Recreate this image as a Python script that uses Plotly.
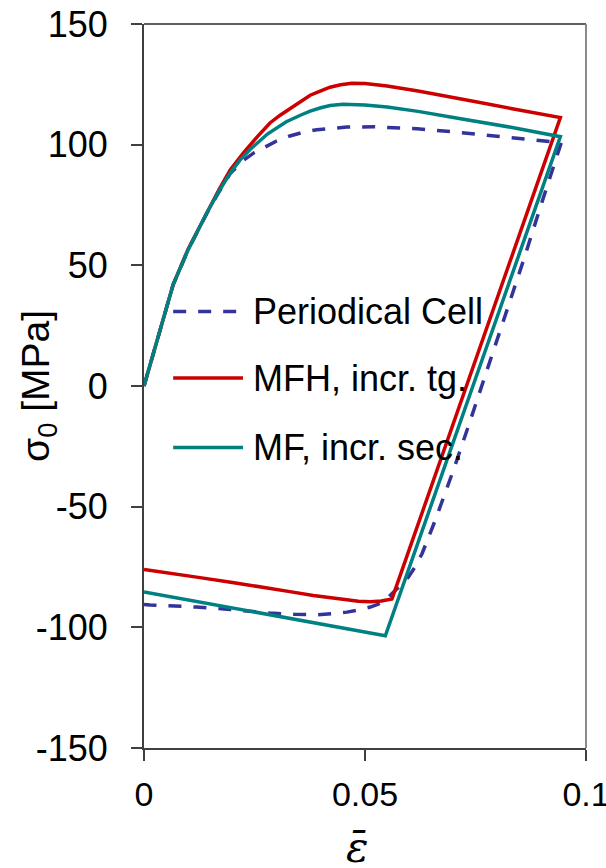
import plotly.graph_objects as go

# Periodical Cell (unit-cell FE reference): loading, unloading, reverse loading
pc_strain = [0.0, 0.0066, 0.010, 0.0142, 0.017, 0.0195, 0.0225, 0.025, 0.0278, 0.030,
             0.033, 0.036, 0.0391, 0.0425, 0.0459, 0.052, 0.057, 0.0618, 0.070, 0.080,
             0.0874, 0.0944,
             0.090, 0.0859, 0.0736, 0.070, 0.0659, 0.0645, 0.0629, 0.0613, 0.0598,
             0.0585, 0.0572, 0.0557, 0.0542, 0.0527, 0.0512, 0.0485, 0.0459, 0.0425,
             0.0391, 0.034, 0.0285, 0.0195, 0.0119, 0.0014, 0.0]
pc_stress = [0.0, 42.0, 56.5, 71.5, 80.5, 88.0, 93.5, 96.8, 99.4, 101.5,
             103.6, 105.1, 106.2, 106.9, 107.3, 107.4, 107.1, 106.6, 105.3, 103.4,
             102.3, 100.8,
             76.0, 52.3, -15.5, -34.9, -55.6, -62.5, -69.5, -75.0, -79.2,
             -81.8, -84.0, -86.9, -89.3, -90.6, -91.6, -92.8, -93.7, -94.4,
             -94.8, -94.6, -94.1, -92.6, -91.6, -90.7, -90.5]

# MFH, incremental tangent
mfh_strain = [0.0, 0.0066, 0.010, 0.0142, 0.017, 0.0195, 0.0225, 0.0255, 0.0285, 0.0308,
              0.0331, 0.0353, 0.0376, 0.040, 0.0421, 0.0445, 0.047, 0.050, 0.055, 0.062,
              0.069, 0.076, 0.083, 0.0885, 0.0942,
              0.0561, 0.0537, 0.0512, 0.0485, 0.0459, 0.042, 0.0383, 0.033, 0.027,
              0.020, 0.0119, 0.0]
mfh_stress = [0.0, 42.0, 56.8, 72.0, 81.5, 89.5, 96.6, 103.0, 109.0, 112.2,
              115.0, 118.0, 120.5, 122.3, 123.8, 124.8, 125.4, 125.3, 124.3, 122.2,
              120.0, 117.5, 115.0, 113.1, 111.2,
              -88.2, -89.1, -89.4, -89.2, -88.6, -87.8, -86.8, -85.2, -83.3,
              -81.4, -79.2, -76.0]

# MF, incremental secant
mf_strain = [0.0, 0.0066, 0.010, 0.0142, 0.017, 0.0195, 0.0218, 0.024, 0.028, 0.0322,
             0.0355, 0.0376, 0.040, 0.0421, 0.045, 0.050, 0.055, 0.062, 0.069, 0.076,
             0.083, 0.0942,
             0.0546, 0.0]
mf_stress = [0.0, 42.0, 56.5, 71.7, 80.8, 88.3, 93.8, 98.0, 104.5, 109.5,
             112.3, 113.9, 115.3, 116.2, 116.7, 116.4, 115.6, 113.8, 111.6, 109.5,
             107.2, 103.3,
             -103.5, -85.3]

series_names = ["Periodical Cell", "MFH, incr. tg.", "MF, incr. sec."]
series_colors = ["#333399", "#CC0000", "#008080"]
series_dash = ["13px,12px", "solid", "solid"]

x_ticks = [0, 0.05, 0.1]
x_ticktext = ["0", "0.05", "0.1"]
y_ticks = [150, 100, 50, 0, -50, -100, -150]
y_ticktext = ["150", "100", "50", "0", "-50", "-100", "-150"]

FONT = "Liberation Sans, Arial, sans-serif"

fig = go.Figure()
data = [(pc_strain, pc_stress), (mfh_strain, mfh_stress), (mf_strain, mf_stress)]
for (xs, ys), name, col, dash in zip(data, series_names, series_colors, series_dash):
    fig.add_trace(go.Scatter(
        x=xs, y=ys, mode="lines", name=name,
        line=dict(color=col, width=3.5, dash=dash),
        showlegend=False,
    ))

# hand-placed legend inside the plotting area
legend_rows = [0.603, 0.511, 0.415]
for yr, name, col, dash in zip(legend_rows, series_names, series_colors, series_dash):
    fig.add_shape(type="line", xref="paper", yref="paper",
                  x0=0.066, x1=0.224, y0=yr, y1=yr,
                  line=dict(color=col, width=3.5, dash=dash))
    fig.add_annotation(xref="paper", yref="paper", x=0.243, y=yr,
                       text=name, showarrow=False, xanchor="left", yanchor="middle",
                       font=dict(family=FONT, size=36, color="black"))

# top and right frame lines
fig.add_shape(type="line", xref="paper", yref="paper", x0=0, x1=1, y0=1, y1=1,
              line=dict(color="#606060", width=2))
fig.add_shape(type="line", xref="paper", yref="paper", x0=1, x1=1, y0=0, y1=1,
              line=dict(color="#8a8a8a", width=2))

# axis titles
fig.add_annotation(xref="paper", yref="paper", x=-0.24, y=0.5,
                   text="σ<sub>0</sub> [MPa]", textangle=-90, showarrow=False,
                   xanchor="center", yanchor="middle",
                   font=dict(family=FONT, size=39, color="black"))
fig.add_annotation(xref="paper", yref="paper", x=0.482, y=-0.137,
                   text="<i>ε\u0304</i>", showarrow=False,
                   xanchor="center", yanchor="middle",
                   font=dict(family="DejaVu Serif, serif", size=42, color="black"))

fig.update_xaxes(
    range=[0, 0.1], tickvals=x_ticks, ticktext=x_ticktext, automargin=False,
    showgrid=False, zeroline=False, showline=True, linecolor="#404040", linewidth=2,
    ticks="outside", ticklen=11, tickwidth=1.5, tickcolor="#404040",
    tickfont=dict(family=FONT, size=34, color="black"), ticklabelstandoff=4,
    ticklabeloverflow="allow",
)
fig.update_yaxes(
    range=[-150, 150], tickvals=y_ticks, ticktext=y_ticktext, automargin=False,
    showgrid=False, zeroline=False, showline=True, linecolor="#404040", linewidth=2,
    ticks="outside", ticklen=11, tickwidth=1.5, tickcolor="#404040",
    tickfont=dict(family=FONT, size=36, color="black"), ticklabelstandoff=16,
    ticklabeloverflow="allow",
)
fig.update_layout(
    width=606, height=868,
    margin=dict(l=144, r=20, t=24, b=120),
    paper_bgcolor="white", plot_bgcolor="white",
    showlegend=False,
)
fig.write_html("out.html")
